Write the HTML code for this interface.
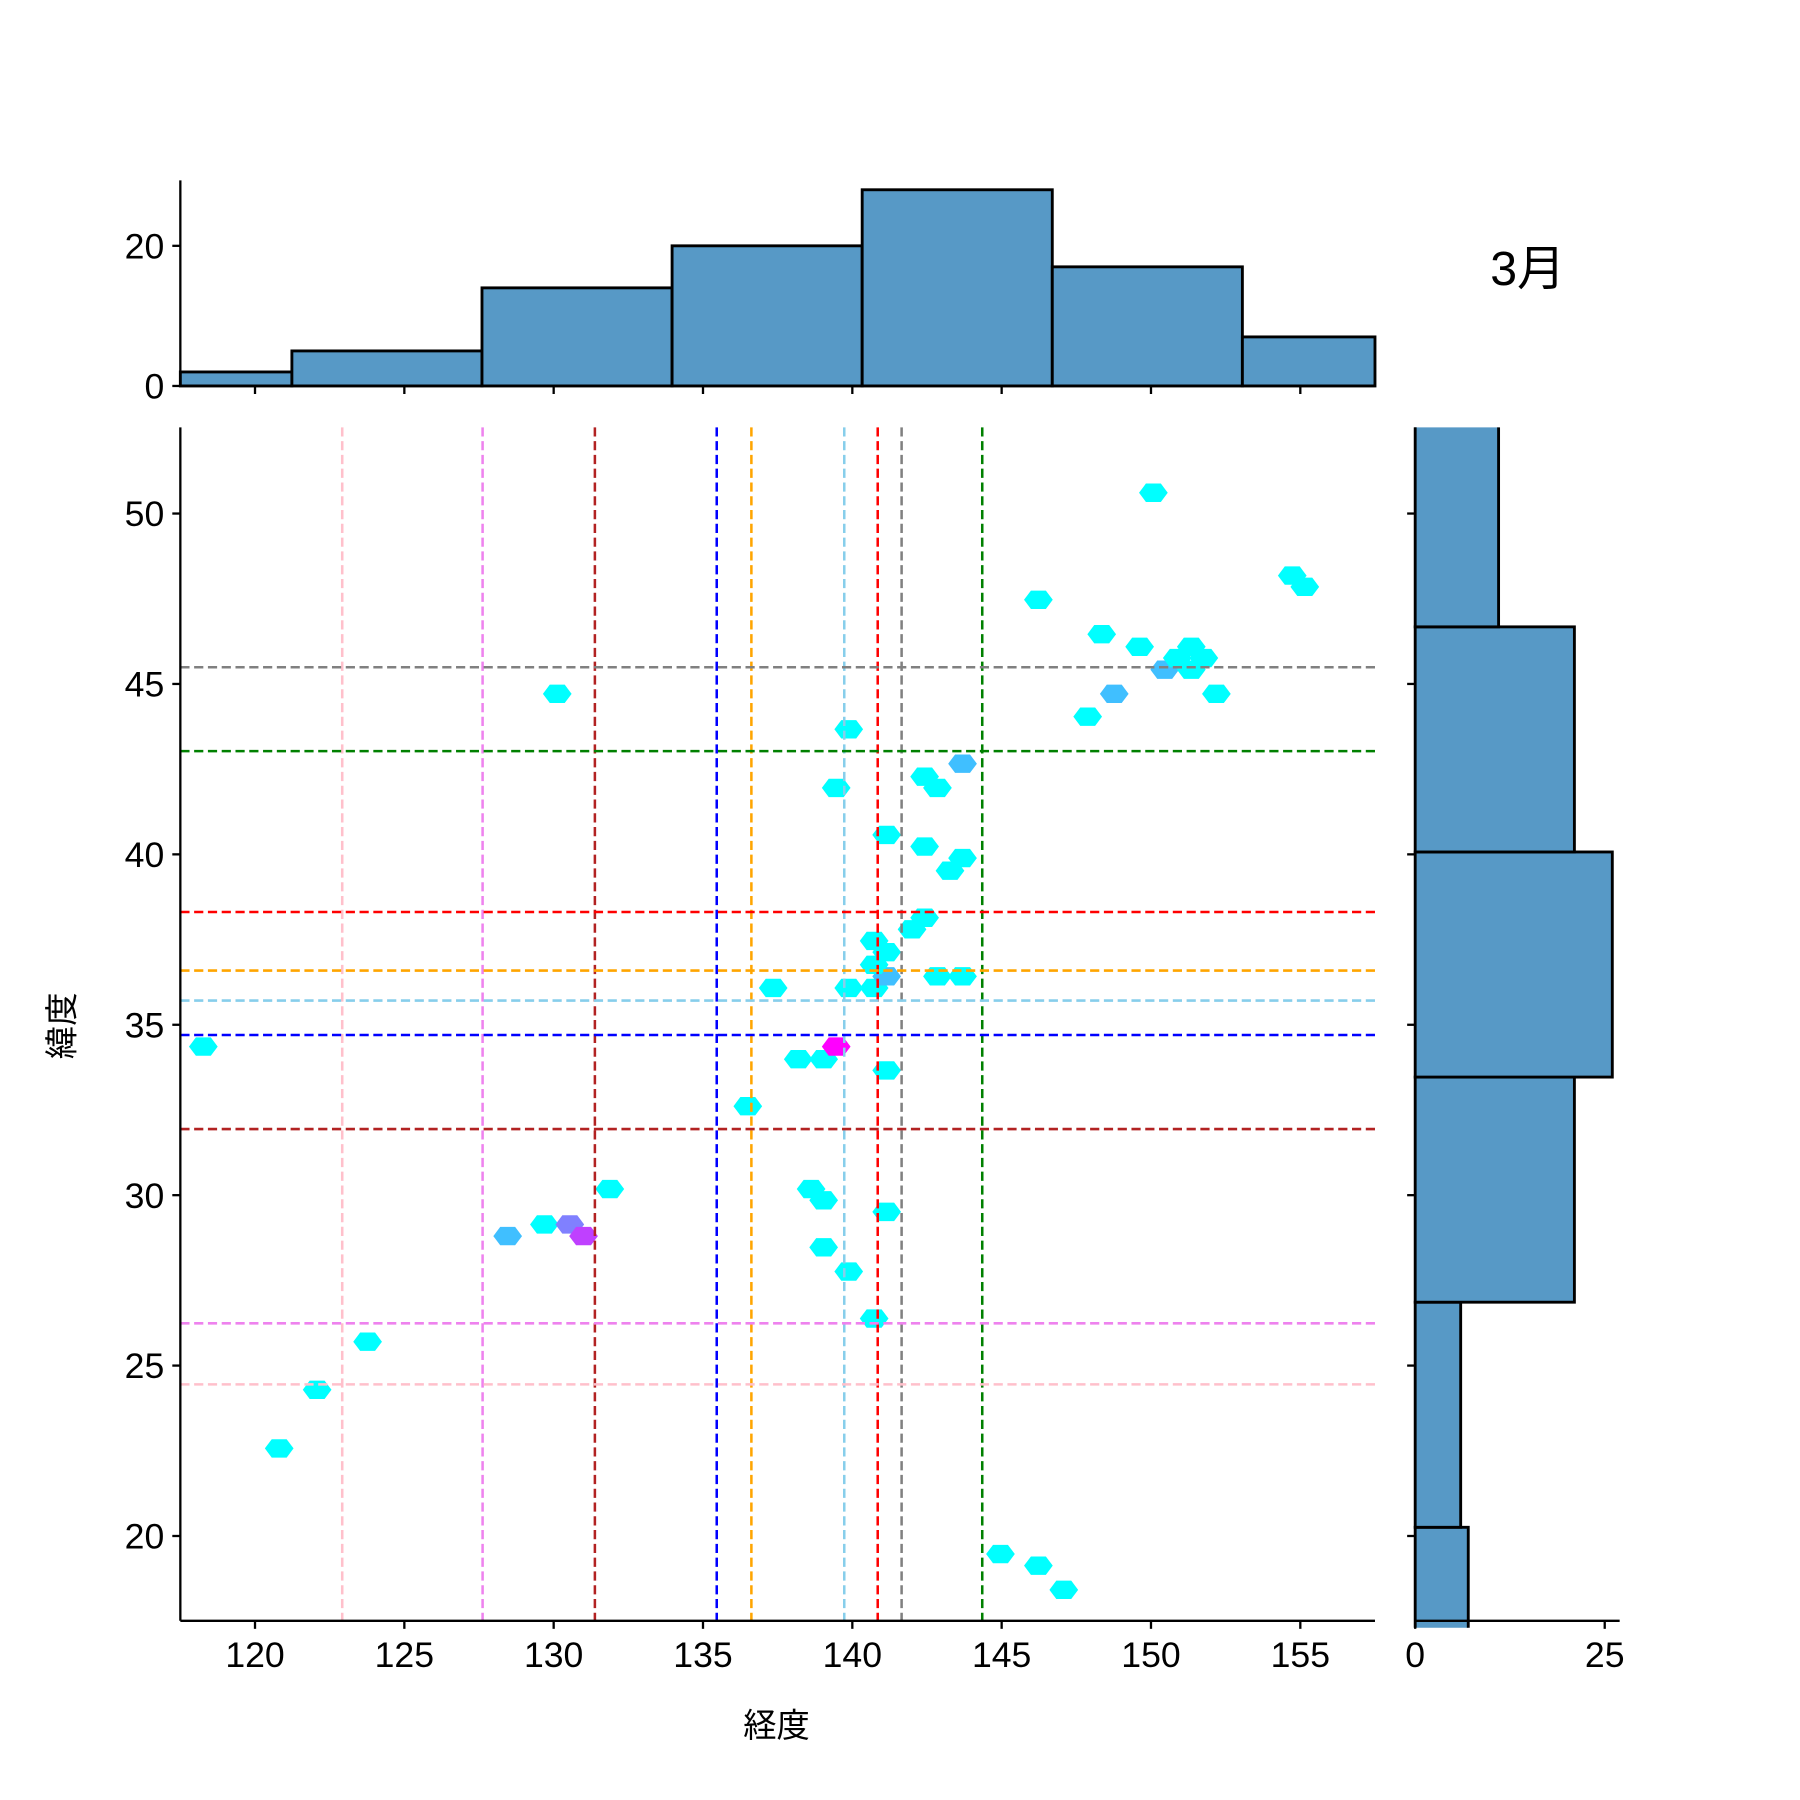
<!DOCTYPE html>
<html><head><meta charset="utf-8">
<style>
html,body{margin:0;padding:0;background:#fff;}
svg{display:block;}
text{font-family:"Liberation Sans","Noto Sans CJK JP",sans-serif;fill:#000;}
</style></head>
<body>
<svg id="chart" width="1800" height="1800" viewBox="0 0 1567 1567" xmlns="http://www.w3.org/2000/svg">
<defs><clipPath id="rclip"><rect x="1220" y="372" width="220" height="1045"/></clipPath></defs>
<g id="hexes"></g>
<g id="vlines"></g>
<g id="hlines"></g>
<g id="tophist"></g>
<g id="righthist" clip-path="url(#rclip)"></g>
<g id="axes"></g>
<text x="1330" y="248" font-size="42" text-anchor="middle">3月</text>
<text x="676" y="1512" font-size="29" text-anchor="middle">経度</text>
<text x="0" y="0" font-size="29" text-anchor="middle" transform="translate(64,893) rotate(-90)">緯度</text>
</svg>
<script>
// data
const hexLon = [118.27,120.81,122.08,123.77,128.46,129.69,130.54,131.0,131.88,130.12,136.5,137.35,138.19,139.04,139.46,138.62,139.04,139.04,139.88,140.73,141.15,141.15,139.88,140.73,141.15,140.73,141.15,140.73,142.0,142.42,142.85,143.69,141.15,142.42,143.27,143.69,142.42,142.85,143.69,139.46,139.88,146.23,148.35,149.62,147.88,148.77,150.46,150.88,151.35,151.77,151.35,152.19,150.08,154.73,155.15,144.96,146.23,147.08];
const hexLat = [34.36,22.57,24.29,25.70,28.80,29.14,29.14,28.80,30.18,44.71,32.61,36.08,33.99,33.99,34.36,30.18,29.85,28.47,27.76,26.38,29.51,33.66,36.08,36.08,36.42,36.76,37.13,37.46,37.80,38.14,36.42,36.42,40.57,40.23,39.52,39.89,42.28,41.95,42.66,41.95,43.67,47.47,46.46,46.09,44.04,44.71,45.42,45.76,46.09,45.76,45.42,44.71,50.61,48.18,47.85,19.47,19.13,18.42];
const hexCount = [1,1,1,1,2,1,3,4,1,1,1,1,1,1,5,1,1,1,1,1,1,1,1,1,2,1,1,1,1,1,1,1,1,1,1,1,1,1,2,1,1,1,1,1,1,2,2,1,1,1,1,1,1,1,1,1,1,1];
const vLineLon = [122.92,127.62,131.38,135.46,136.62,139.73,140.85,141.65,144.35];
const vLineColor = ["pink","violet","firebrick","blue","orange","skyblue","red","gray","green"];
const hLineLat = [45.49,43.03,38.31,36.59,35.71,34.70,31.94,26.24,24.45];
const hLineColor = ["gray","green","red","orange","skyblue","blue","firebrick","violet","pink"];
const lonBinStart = 114.87, lonBinWidth = 6.365;
const lonCounts = [2,5,14,20,28,17,7];
const latBinStart = 13.65, latBinWidth = 6.605;
const latCounts = [7,6,21,26,21,11];
const xTicks = [120,125,130,135,140,145,150,155];
const yTicks = [20,25,30,35,40,45,50];
const topTicks = [0,20];
const rightTicks = [0,25];

const NS='http://www.w3.org/2000/svg';
const L=157,R=1197,T=372,B=1411;
const X=v=>L+(v-117.5)*26;
const Y=v=>T+(52.53-v)*29.67;
const HT=v=>336-v*6.1;
const HR=v=>1232+v*6.6;
function mk(tag,attrs,parent){const e=document.createElementNS(NS,tag);for(const k in attrs)e.setAttribute(k,attrs[k]);parent.appendChild(e);return e;}
function cool(c){const t=Math.min(1,(c-1)/4);return `rgb(${Math.round(255*t)},${Math.round(255*(1-t))},255)`;}

const gh=document.getElementById('hexes');
hexLon.forEach((lo,i)=>{const cx=X(lo),cy=Y(hexLat[i]);
 const p=[[-12.5,0],[-6.5,-8],[6.5,-8],[12.5,0],[6.5,8],[-6.5,8]].map(q=>(cx+q[0])+','+(cy+q[1])).join(' ');
 const e=mk('polygon',{points:p,fill:cool(hexCount[i])},gh);
 
 });

const gv=document.getElementById('vlines');
vLineLon.forEach((v,i)=>{const e=mk('line',{x1:X(v),x2:X(v),y1:T,y2:B,stroke:vLineColor[i],'stroke-width':2.2,'stroke-dasharray':'8,4'},gv);
 
 });
const ghl=document.getElementById('hlines');
hLineLat.forEach((v,i)=>{const e=mk('line',{x1:L,x2:R,y1:Y(v),y2:Y(v),stroke:hLineColor[i],'stroke-width':2.2,'stroke-dasharray':'8,4'},ghl);
 
 });

const gt=document.getElementById('tophist');
lonCounts.forEach((c,i)=>{let x0=X(lonBinStart+i*lonBinWidth),x1=X(lonBinStart+(i+1)*lonBinWidth);
 x0=Math.max(x0,L);x1=Math.min(x1,R);
 const e=mk('rect',{x:x0,y:HT(c),width:x1-x0,height:336-HT(c),fill:'#5799c6',stroke:'#000','stroke-width':2.5},gt);
 
 });
const gr=document.getElementById('righthist');
latCounts.forEach((c,i)=>{const y0=Y(latBinStart+(i+1)*latBinWidth),y1=Y(latBinStart+i*latBinWidth);
 const e=mk('rect',{x:1232,y:y0,width:HR(c)-1232,height:y1-y0,fill:'#5799c6',stroke:'#000','stroke-width':2.5},gr);
 
 });

const ga=document.getElementById('axes');
const S={stroke:'#000','stroke-width':2};
mk('line',Object.assign({x1:L,x2:L,y1:T,y2:B},S),ga);
mk('line',Object.assign({x1:L,x2:R,y1:B,y2:B},S),ga);
mk('line',Object.assign({x1:L,x2:L,y1:157,y2:336},S),ga);
mk('line',Object.assign({x1:L,x2:R,y1:336,y2:336},S),ga);
mk('line',Object.assign({x1:1232,x2:1232,y1:T,y2:B},S),ga);
mk('line',Object.assign({x1:1232,x2:1410,y1:B,y2:B},S),ga);
xTicks.forEach(v=>{mk('line',Object.assign({x1:X(v),x2:X(v),y1:B,y2:B+7},S),ga);
 mk('line',Object.assign({x1:X(v),x2:X(v),y1:336,y2:343},S),ga);
 const t=mk('text',{x:X(v),y:B+40,'font-size':31,'text-anchor':'middle'},ga);t.textContent=v;
 
 });
yTicks.forEach(v=>{mk('line',Object.assign({x1:L-7,x2:L,y1:Y(v),y2:Y(v)},S),ga);
 mk('line',Object.assign({x1:1225,x2:1232,y1:Y(v),y2:Y(v)},S),ga);
 const t=mk('text',{x:L-14,y:Y(v)+11,'font-size':31,'text-anchor':'end'},ga);t.textContent=v;
 
 });
topTicks.forEach(v=>{mk('line',Object.assign({x1:L-7,x2:L,y1:HT(v),y2:HT(v)},S),ga);
 const t=mk('text',{x:L-14,y:HT(v)+11,'font-size':31,'text-anchor':'end'},ga);t.textContent=v;
 
 });
rightTicks.forEach(v=>{mk('line',Object.assign({x1:HR(v),x2:HR(v),y1:B,y2:B+7},S),ga);
 const t=mk('text',{x:HR(v),y:B+40,'font-size':31,'text-anchor':'middle'},ga);t.textContent=v;
 
 });
</script>
</body></html>
